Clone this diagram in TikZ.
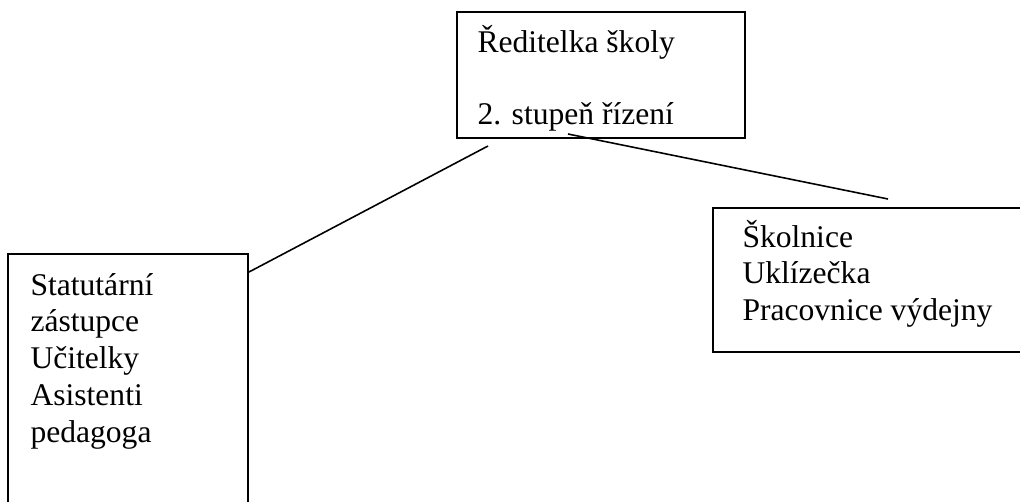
\documentclass[tikz,border=0pt]{standalone}
\usepackage{fontspec}
\setmainfont{Liberation Serif}
\begin{document}
\begin{tikzpicture}[x=0.38pt,y=-0.38pt,
  box/.style={draw, rectangle, line width=0.75pt, inner sep=0pt},
  txt/.style={anchor=base west, inner sep=0pt, font=\fontsize{12pt}{13.9pt}\selectfont},
  link/.style={line width=0.6pt}]
\useasboundingbox (0,0) rectangle (1020,502);
\clip (0,0) rectangle (1020,502);
% boxes
\node[box, minimum width=109.44pt, minimum height=47.88pt] (topbox) at (601,75) {};
\node[box, minimum width=91.2pt, minimum height=131.48pt] (leftbox) at (128,427) {};
\node[box, minimum width=147.06pt, minimum height=54.72pt] (rightbox) at (906.5,280) {};
% texts
\node[txt] (t1) at (477,52) {Ředitelka školy};
\node[txt] (t2) at (477,124) {2. stupeň řízení};
\node[txt] (l1) at (30,295) {Statutární};
\node[txt] (l2) at (30,331.75) {zástupce};
\node[txt] (l3) at (30,368.5) {Učitelky};
\node[txt] (l4) at (30,405.25) {Asistenti};
\node[txt] (l5) at (30,442) {pedagoga};
\node[txt] (r1) at (742,247) {Školnice};
\node[txt] (r2) at (742,283.5) {Uklízečka};
\node[txt] (r3) at (742,320) {Pracovnice výdejny};
% connectors
\coordinate (a1) at (488,146);
\coordinate (b1) at (568,134);
\coordinate (b2) at (888,199);
\draw[link] (a1) -- ([yshift=-7.22pt]leftbox.north east);
\draw[link] (b1) -- (b2);
\end{tikzpicture}
\end{document}
